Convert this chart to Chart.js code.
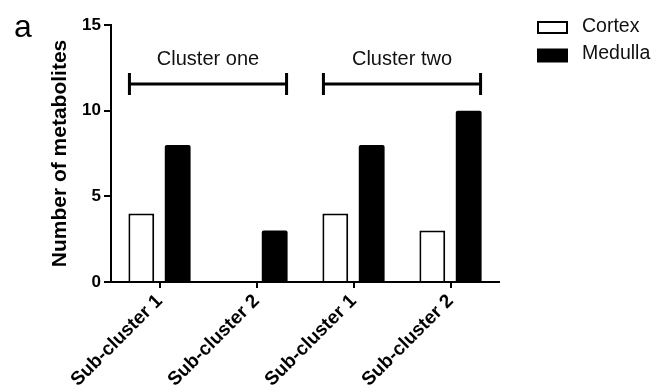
<!DOCTYPE html>
<html>
<head>
<meta charset="utf-8">
<script src="https://cdn.jsdelivr.net/npm/chart.js@4/dist/chart.umd.min.js"></script>
<style>
  html, body { margin: 0; padding: 0; background: #fff; }
  #wrap { width: 657px; height: 392px; }
</style>
</head>
<body>
<div id="wrap"><canvas id="chart" width="657" height="392"></canvas></div>
<script>
// Metabolite counts per sub-cluster, cortex vs medulla
const categories = ['Sub-cluster 1', 'Sub-cluster 2', 'Sub-cluster 1', 'Sub-cluster 2'];
const seriesNames = ['Cortex', 'Medulla'];
const cortex = [4, 0, 4, 3];
const medulla = [8, 3, 8, 10];
const yTicks = [0, 5, 10, 15];

// Cluster brackets: which categories each one groups
const clusterNames = ['Cluster one', 'Cluster two'];
const clusterFirst = [0, 2];
const clusterLast = [1, 3];
const clusterLevel = 11.55;

const panelLetter = 'a';
const FONT = '"Liberation Sans", Arial, Helvetica, sans-serif';

// Brackets, panel letter and legend drawn on top of the bars
const decorations = {
  id: 'decorations',
  afterDraw(chart) {
    const { ctx, scales: { x, y } } = chart;
    const step = x.getPixelForTick(1) - x.getPixelForTick(0);
    const reach = 0.31 * step;
    const yb = y.getPixelForValue(clusterLevel);
    ctx.save();
    ctx.strokeStyle = '#000';
    ctx.fillStyle = '#111';
    ctx.lineWidth = 3;
    ctx.lineCap = 'butt';
    ctx.font = '20px ' + FONT;
    ctx.textAlign = 'center';
    ctx.textBaseline = 'alphabetic';
    clusterNames.forEach((name, i) => {
      const x0 = x.getPixelForValue(clusterFirst[i]) - reach;
      const x1 = x.getPixelForValue(clusterLast[i]) + reach;
      ctx.beginPath();
      ctx.moveTo(x0, yb); ctx.lineTo(x1, yb);
      ctx.moveTo(x0, yb - 11); ctx.lineTo(x0, yb + 11);
      ctx.moveTo(x1, yb - 11); ctx.lineTo(x1, yb + 11);
      ctx.stroke();
      ctx.fillText(name, (x0 + x1) / 2, yb - 19);
    });

    // panel letter
    ctx.fillStyle = '#000';
    ctx.textAlign = 'left';
    ctx.font = '32px ' + FONT;
    ctx.fillText(panelLetter, 14, 37);

    // legend
    const ds = chart.data.datasets;
    ctx.font = '19.5px ' + FONT;
    ctx.textBaseline = 'middle';
    ds.forEach((d, i) => {
      const top = 21 + i * 27.5;
      const h = 13;
      if (d.borderWidth) {
        ctx.fillStyle = d.backgroundColor;
        ctx.fillRect(537, top, 31, h);
        ctx.lineWidth = 2;
        ctx.strokeStyle = d.borderColor;
        ctx.strokeRect(538, top + 1, 29, h - 2);
      } else {
        ctx.fillStyle = d.backgroundColor;
        ctx.fillRect(537, top, 31, h + 1);
      }
      ctx.fillStyle = '#111';
      ctx.fillText(d.label, 582, top + h / 2 - 1);
    });
    ctx.restore();
  }
};

new Chart(document.getElementById('chart'), {
  type: 'bar',
  data: {
    labels: categories,
    datasets: [
      {
        label: seriesNames[0],
        data: cortex,
        backgroundColor: '#ffffff',
        borderColor: '#000000',
        borderWidth: 2,
        borderSkipped: 'start',
        categoryPercentage: 0.75,
        barPercentage: 0.71
      },
      {
        label: seriesNames[1],
        data: medulla,
        backgroundColor: '#000000',
        borderWidth: 0,
        borderRadius: { topLeft: 2, topRight: 2 },
        categoryPercentage: 0.75,
        barPercentage: 0.71
      }
    ]
  },
  options: {
    responsive: false,
    animation: false,
    devicePixelRatio: 1,
    layout: { padding: { top: 25, right: 158, left: 0, bottom: 0 } },
    plugins: {
      legend: { display: false },
      tooltip: { enabled: false }
    },
    scales: {
      x: {
        grid: {
          display: true,
          offset: false,
          drawOnChartArea: false,
          drawTicks: true,
          tickLength: 6,
          color: '#000',
          lineWidth: 2
        },
        border: { display: true, color: '#000', width: 2 },
        ticks: {
          color: '#000',
          font: { family: FONT, size: 19, weight: 'bold' },
          maxRotation: 45,
          minRotation: 45,
          padding: 2
        },
        afterFit(scale) { scale.height = 110; }
      },
      y: {
        min: 0,
        max: 15,
        afterBuildTicks(scale) { scale.ticks = yTicks.map(v => ({ value: v })); },
        grid: {
          display: true,
          drawOnChartArea: false,
          drawTicks: true,
          tickLength: 7,
          color: '#000',
          lineWidth: 2
        },
        border: { display: true, color: '#000', width: 2 },
        ticks: {
          color: '#000',
          font: { family: FONT, size: 17, weight: 'bold' },
          padding: 3
        },
        title: {
          display: true,
          text: 'Number of metabolites',
          color: '#000',
          font: { family: FONT, size: 21, weight: 'bold' },
          padding: { top: 48, bottom: 0 }
        },
        afterFit(scale) { scale.width = 111; }
      }
    }
  },
  plugins: [decorations]
});
</script>
</body>
</html>
